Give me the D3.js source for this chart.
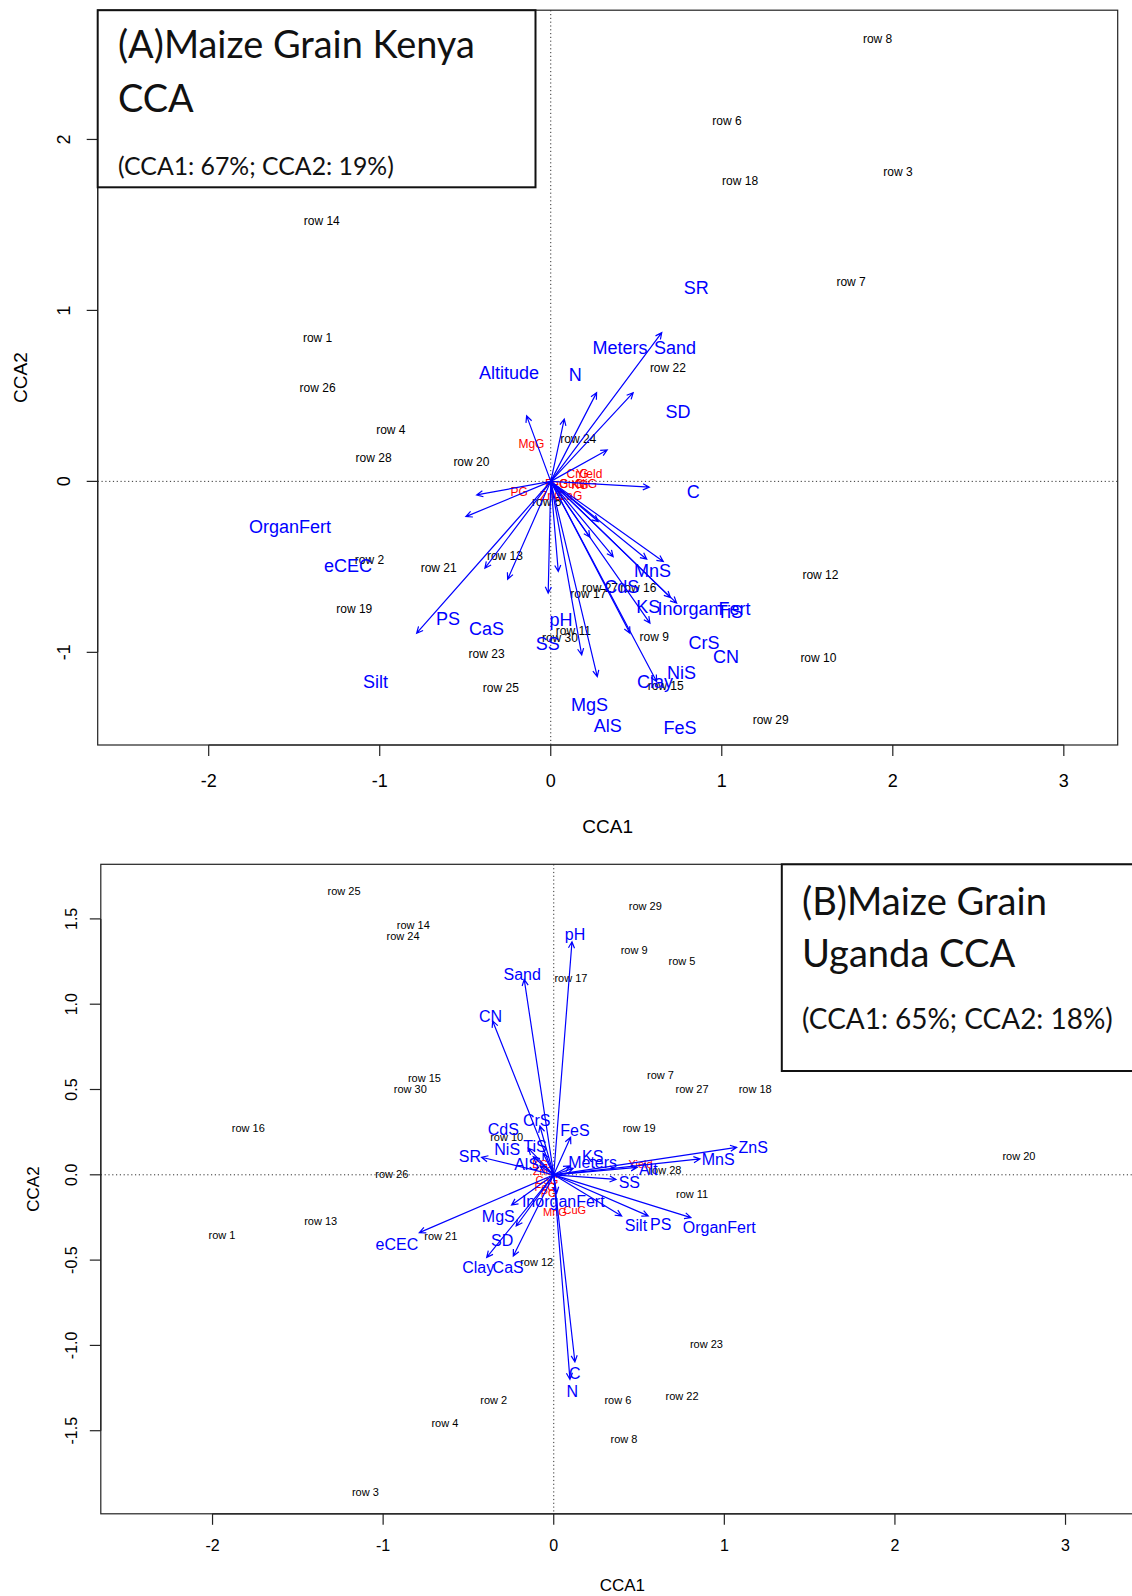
<!DOCTYPE html>
<html>
<head>
<meta charset="utf-8">
<script src="https://cdn.jsdelivr.net/npm/d3@7"></script>
<style>
  html, body { margin: 0; padding: 0; background: #fff; }
  svg { display: block; }
</style>
</head>
<body>
<svg id="chart" width="1132" height="1596"></svg>
<script>
// ---------- Kenya CCA (panel A) ----------
// site scores: [label, CCA1, CCA2]
const kenyaSites = [
  ["row 1", -1.363, 0.839], ["row 2", -1.060, -0.458], ["row 3", 2.030, 1.810],
  ["row 4", -0.935, 0.304], ["row 5", -0.024, -0.119], ["row 6", 1.030, 2.107],
  ["row 7", 1.756, 1.167], ["row 8", 1.911, 2.589], ["row 9", 0.605, -0.907],
  ["row 10", 1.565, -1.030], ["row 11", 0.132, -0.874], ["row 12", 1.577, -0.548],
  ["row 13", -0.268, -0.435], ["row 14", -1.339, 1.524], ["row 15", 0.672, -1.194],
  ["row 16", 0.512, -0.621], ["row 17", 0.220, -0.660], ["row 18", 1.107, 1.756],
  ["row 19", -1.149, -0.744], ["row 20", -0.464, 0.113], ["row 21", -0.655, -0.506],
  ["row 22", 0.685, 0.667], ["row 23", -0.375, -1.006], ["row 24", 0.161, 0.250],
  ["row 25", -0.292, -1.208], ["row 26", -1.363, 0.548], ["row 27", 0.288, -0.621],
  ["row 28", -1.036, 0.137], ["row 29", 1.286, -1.393], ["row 30", 0.054, -0.917]
];
// grain element scores: [label, CCA1, CCA2]
const kenyaGrain = [
  ["MgG", -0.113, 0.220], ["PG", -0.185, -0.060], ["CrG", 0.157, 0.044],
  ["Yield", 0.225, 0.044], ["FeG", 0.034, -0.016], ["CuG", 0.122, -0.016],
  ["KG", 0.171, -0.022], ["NiG", 0.210, -0.016], ["ZnG", 0.005, -0.083],
  ["CaG", 0.112, -0.083]
];
// environmental biplot arrows: [label, tipCCA1, tipCCA2, labelCCA1, labelCCA2]
const kenyaEnv = [
  ["SR", 0.649, 0.870, 0.851, 1.131],
  ["Sand", 0.482, 0.519, 0.726, 0.780],
  ["Meters", 0.268, 0.519, 0.405, 0.780],
  ["N", 0.079, 0.364, 0.143, 0.625],
  ["Altitude", -0.141, 0.383, -0.244, 0.637],
  ["SD", 0.330, 0.184, 0.744, 0.405],
  ["C", 0.576, -0.034, 0.833, -0.060],
  ["OrganFert", -0.433, -0.079, -1.524, -0.268],
  ["eCEC", -0.496, -0.206, -1.185, -0.494],
  ["TiS", 0.658, -0.469, 1.048, -0.762],
  ["InorganFert", 0.561, -0.455, 0.896, -0.742],
  ["KS", 0.365, -0.440, 0.570, -0.732],
  ["MnS", 0.278, -0.235, 0.595, -0.524],
  ["CdS", 0.229, -0.326, 0.415, -0.615],
  ["pH", 0.044, -0.527, 0.060, -0.810],
  ["SS", -0.015, -0.654, -0.018, -0.952],
  ["CaS", -0.252, -0.572, -0.375, -0.863],
  ["PS", -0.385, -0.508, -0.601, -0.804],
  ["Silt", -0.784, -0.888, -1.024, -1.173],
  ["CrS", 0.736, -0.712, 0.896, -0.942],
  ["CN", 0.700, -0.680, 1.025, -1.028],
  ["NiS", 0.580, -0.829, 0.765, -1.121],
  ["Clay", 0.463, -0.888, 0.610, -1.170],
  ["MgS", 0.181, -1.015, 0.226, -1.307],
  ["FeS", 0.619, -1.171, 0.756, -1.443],
  ["AlS", 0.272, -1.142, 0.333, -1.429]
];
const kenyaXTicks = [-2, -1, 0, 1, 2, 3];
const kenyaYTicks = [-1, 0, 1, 2];
const kenyaTitle = ["(A)Maize Grain Kenya", "CCA"];
const kenyaSubtitle = "(CCA1: 67%; CCA2: 19%)";

// ---------- Uganda CCA (panel B) ----------
const ugandaSites = [
  ["row 1", -1.945, -0.352], ["row 2", -0.352, -1.319], ["row 3", -1.104, -1.862],
  ["row 4", -0.638, -1.456], ["row 5", 0.752, 1.253], ["row 6", 0.376, -1.319],
  ["row 7", 0.626, 0.585], ["row 8", 0.412, -1.551], ["row 9", 0.471, 1.319],
  ["row 10", -0.276, 0.220], ["row 11", 0.811, -0.113], ["row 12", -0.100, -0.510],
  ["row 13", -1.366, -0.274], ["row 14", -0.823, 1.462], ["row 15", -0.758, 0.567],
  ["row 16", -1.790, 0.274], ["row 17", 0.101, 1.152], ["row 18", 1.181, 0.501],
  ["row 19", 0.501, 0.274], ["row 20", 2.727, 0.107], ["row 21", -0.662, -0.358],
  ["row 22", 0.752, -1.295], ["row 23", 0.895, -0.990], ["row 24", -0.883, 1.396],
  ["row 25", -1.229, 1.665], ["row 26", -0.949, 0.006], ["row 27", 0.811, 0.501],
  ["row 28", 0.652, 0.028], ["row 29", 0.537, 1.575], ["row 30", -0.841, 0.501]
];
const ugandaGrain = [
  ["Yield", 0.509, 0.062], ["MnG", 0.007, -0.216], ["CuG", 0.124, -0.210],
  ["KG", -0.080, 0.060], ["ZnG", -0.060, 0.020], ["CaG", -0.040, -0.030],
  ["FeG", -0.050, -0.070], ["PG", -0.030, -0.110]
];
const ugandaEnv = [
  ["pH", 0.107, 1.366, 0.125, 1.409],
  ["Sand", -0.173, 1.146, -0.185, 1.176],
  ["CN", -0.358, 0.902, -0.370, 0.931],
  ["CdS", -0.149, 0.155, -0.296, 0.268],
  ["CrS", -0.081, 0.286, -0.100, 0.321],
  ["FeS", 0.099, 0.220, 0.124, 0.263],
  ["TiS", -0.062, 0.126, -0.110, 0.169],
  ["NiS", -0.120, 0.106, -0.273, 0.149],
  ["SR", -0.423, 0.103, -0.491, 0.106],
  ["AlS", -0.081, 0.052, -0.159, 0.063],
  ["KS", 0.095, 0.052, 0.228, 0.110],
  ["Meters", 0.114, 0.038, 0.228, 0.071],
  ["Alt", 0.489, 0.044, 0.554, 0.032],
  ["MnS", 0.857, 0.093, 0.964, 0.091],
  ["ZnS", 1.072, 0.161, 1.169, 0.161],
  ["SS", 0.365, -0.027, 0.443, -0.046],
  ["InorganFert", 0.017, -0.109, 0.056, -0.158],
  ["MgS", -0.247, -0.177, -0.325, -0.241],
  ["eCEC", -0.788, -0.339, -0.919, -0.406],
  ["SD", -0.220, -0.300, -0.302, -0.382],
  ["Clay", -0.393, -0.484, -0.443, -0.542],
  ["CaS", -0.237, -0.476, -0.267, -0.542],
  ["Silt", 0.398, -0.241, 0.482, -0.294],
  ["PS", 0.554, -0.241, 0.627, -0.288],
  ["OrganFert", 0.804, -0.251, 0.970, -0.308],
  ["C", 0.124, -1.096, 0.124, -1.164],
  ["N", 0.095, -1.199, 0.108, -1.271]
];
const ugandaXTicks = [-2, -1, 0, 1, 2, 3];
const ugandaYTicks = [-1.5, -1.0, -0.5, 0.0, 0.5, 1.0, 1.5];
const ugandaTitle = ["(B)Maize Grain", "Uganda CCA"];
const ugandaSubtitle = "(CCA1: 65%; CCA2: 18%)";

const svg = d3.select("#chart");
const RFONT = "'Liberation Sans', Arial, Helvetica, sans-serif";
const TFONT = "Lato, 'Open Sans', sans-serif";
const BLUE = "#0000ff", RED = "#ff0000";
const intFmt = d => String(d);
const oneDec = d => d.toFixed(1);

function drawPanel(o) {
  const g = svg.append("g");
  const x = d3.scaleLinear().domain(o.xDomain).range(o.xRange);
  const y = d3.scaleLinear().domain(o.yDomain).range(o.yRange);
  const [L, R] = o.xRange, [B, T] = o.yRange;

  const clipId = "clip" + o.id;
  g.append("clipPath").attr("id", clipId).append("rect")
    .attr("x", L).attr("y", T).attr("width", R - L).attr("height", B - T);
  const plot = g.append("g").attr("clip-path", `url(#${clipId})`);

  // dotted zero lines
  plot.append("line").attr("x1", L).attr("x2", R).attr("y1", y(0)).attr("y2", y(0))
    .attr("stroke", "#333").attr("stroke-width", 1).attr("stroke-dasharray", "1.2,2.6");
  plot.append("line").attr("x1", x(0)).attr("x2", x(0)).attr("y1", T).attr("y2", B)
    .attr("stroke", "#333").attr("stroke-width", 1).attr("stroke-dasharray", "1.2,2.6");

  // site labels
  plot.append("g").selectAll("text").data(o.sites).join("text")
    .attr("x", d => x(d[1])).attr("y", d => y(d[2])).attr("dy", "0.35em")
    .attr("text-anchor", "middle").attr("font-family", RFONT)
    .attr("font-size", o.siteSize).attr("fill", "#000").text(d => d[0]);

  // grain labels
  plot.append("g").selectAll("text").data(o.grain).join("text")
    .attr("x", d => x(d[1])).attr("y", d => y(d[2])).attr("dy", "0.35em")
    .attr("text-anchor", "middle").attr("font-family", RFONT)
    .attr("font-size", o.siteSize).attr("fill", RED).text(d => d[0]);

  // environmental arrows
  const head = 7, ang = Math.PI / 7;
  const arrows = plot.append("g").attr("stroke", BLUE).attr("stroke-width", 1.2).attr("fill", "none");
  o.env.forEach(d => {
    const x0 = x(0), y0 = y(0), x1 = x(d[1]), y1 = y(d[2]);
    const th = Math.atan2(y1 - y0, x1 - x0);
    const path = d3.path();
    path.moveTo(x0, y0); path.lineTo(x1, y1);
    path.moveTo(x1 - head * Math.cos(th - ang), y1 - head * Math.sin(th - ang));
    path.lineTo(x1, y1);
    path.lineTo(x1 - head * Math.cos(th + ang), y1 - head * Math.sin(th + ang));
    arrows.append("path").attr("d", path.toString());
  });
  plot.append("g").selectAll("text").data(o.env).join("text")
    .attr("x", d => x(d[3])).attr("y", d => y(d[4])).attr("dy", "0.35em")
    .attr("text-anchor", "middle").attr("font-family", RFONT)
    .attr("font-size", o.envSize).attr("fill", BLUE).text(d => d[0]);

  // frame
  g.append("rect").attr("x", L).attr("y", T).attr("width", R - L).attr("height", B - T)
    .attr("fill", "none").attr("stroke", "#222").attr("stroke-width", 1.2);

  // axes in base-graphics style
  const tick = 11;
  const ax = g.append("g").attr("stroke", "#222").attr("stroke-width", 1.2);
  ax.append("line").attr("x1", x(o.xTicks[0])).attr("x2", x(o.xTicks[o.xTicks.length - 1]))
    .attr("y1", B).attr("y2", B);
  ax.selectAll(".xt").data(o.xTicks).join("line")
    .attr("x1", d => x(d)).attr("x2", d => x(d)).attr("y1", B).attr("y2", B + tick);
  ax.append("line").attr("x1", L).attr("x2", L)
    .attr("y1", y(o.yTicks[0])).attr("y2", y(o.yTicks[o.yTicks.length - 1]));
  ax.selectAll(".yt").data(o.yTicks).join("line")
    .attr("x1", L - tick).attr("x2", L).attr("y1", d => y(d)).attr("y2", d => y(d));

  g.append("g").selectAll("text").data(o.xTicks).join("text")
    .attr("x", d => x(d)).attr("y", o.xLabelY).attr("dy", "0.35em")
    .attr("text-anchor", "middle").attr("font-family", RFONT).attr("font-size", o.tickSize)
    .text(d => o.xFmt(d));
  g.append("g").selectAll("text").data(o.yTicks).join("text")
    .attr("transform", d => `translate(${o.yLabelX},${y(d)}) rotate(-90)`).attr("dy", "0.35em")
    .attr("text-anchor", "middle").attr("font-family", RFONT).attr("font-size", o.tickSize)
    .text(d => o.yFmt(d));

  g.append("text").attr("x", (L + R) / 2).attr("y", o.xTitleY).attr("dy", "0.35em")
    .attr("text-anchor", "middle").attr("font-family", RFONT).attr("font-size", o.titleSize)
    .text("CCA1");
  g.append("text").attr("transform", `translate(${o.yTitleX},${(T + B) / 2}) rotate(-90)`)
    .attr("dy", "0.35em").attr("text-anchor", "middle").attr("font-family", RFONT)
    .attr("font-size", o.titleSize).text("CCA2");

  // title box
  const tb = o.box;
  g.append("rect").attr("x", tb.x).attr("y", tb.y).attr("width", tb.w).attr("height", tb.h)
    .attr("fill", "#fff").attr("stroke", "#111").attr("stroke-width", 2);
  const fit = (txt, bx, by, width) => {
    const t = g.append("text").attr("x", bx).attr("y", by).attr("font-family", TFONT)
      .attr("font-size", 40).attr("fill", "#111").text(txt);
    const w = t.node().getComputedTextLength();
    const fs = 40 * width / w;
    t.attr("font-size", fs);
    return fs;
  };
  const fs = fit(o.title[0], tb.tx, tb.b1, tb.w1);
  g.append("text").attr("x", tb.tx).attr("y", tb.b2).attr("font-family", TFONT)
    .attr("font-size", fs).attr("fill", "#111").text(o.title[1]);
  fit(o.subtitle, tb.tx, tb.b3, tb.w3);
}

drawPanel({
  id: "A",
  xDomain: [-2.649, 3.315], xRange: [97.7, 1117.7],
  yDomain: [-1.542, 2.756], yRange: [745, 10.2],
  sites: kenyaSites, grain: kenyaGrain, env: kenyaEnv,
  siteSize: 12, envSize: 18, tickSize: 18, titleSize: 19,
  xTicks: kenyaXTicks, yTicks: kenyaYTicks, xFmt: intFmt, yFmt: intFmt,
  xLabelY: 781, yLabelX: 64, xTitleY: 826.6, yTitleX: 20.4,
  title: kenyaTitle, subtitle: kenyaSubtitle,
  box: { x: 97.7, y: 10.2, w: 437.8, h: 177.1, tx: 118, b1: 57.5, b2: 111.7, b3: 175, w1: 357, w3: 276 }
});

drawPanel({
  id: "B",
  xDomain: [-2.655, 3.46], xRange: [100.8, 1144],
  yDomain: [-1.987, 1.82], yRange: [1513.8, 864.3],
  sites: ugandaSites, grain: ugandaGrain, env: ugandaEnv,
  siteSize: 11, envSize: 16, tickSize: 16, titleSize: 17,
  xTicks: ugandaXTicks, yTicks: ugandaYTicks, xFmt: intFmt, yFmt: oneDec,
  xLabelY: 1545.3, yLabelX: 71, xTitleY: 1585, yTitleX: 32.6,
  title: ugandaTitle, subtitle: ugandaSubtitle,
  box: { x: 781.8, y: 864.3, w: 360, h: 206.7, tx: 802, b1: 915, b2: 967, b3: 1028.5, w1: 245, w3: 311 }
});
</script>
</body>
</html>
